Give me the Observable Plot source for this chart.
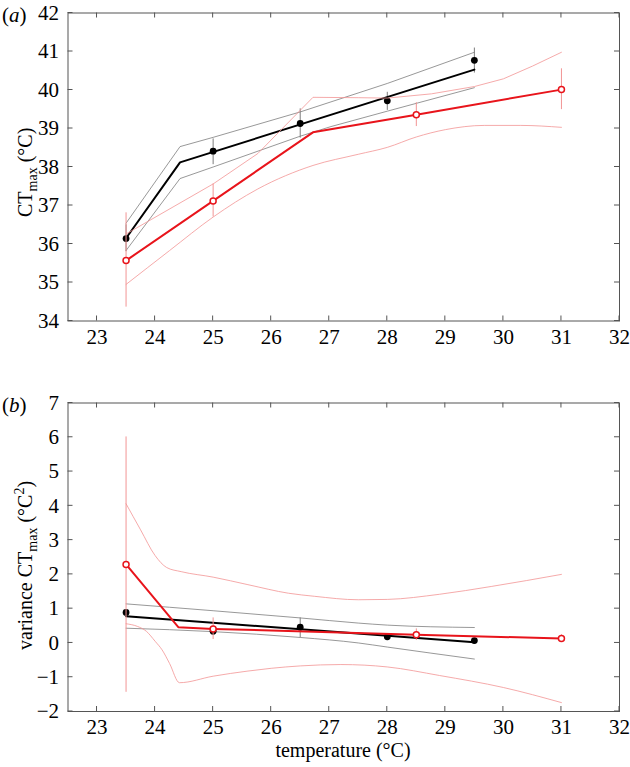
<!DOCTYPE html>
<html><head><meta charset="utf-8">
<script src="https://cdn.jsdelivr.net/npm/d3@7"></script>
<script src="https://cdn.jsdelivr.net/npm/@observablehq/plot@0.6"></script>
<style>
body{margin:0;background:#fff;}
#chart{width:630px;height:767px;position:relative;background:#fff;}
svg{display:block;}
</style></head><body><div id="chart"></div>
<script>
// ---------- shared ticks ----------
const xTicks = [23, 24, 25, 26, 27, 28, 29, 30, 31, 32];
const yTicksA = [34, 35, 36, 37, 38, 39, 40, 41, 42];
const yTicksB = [-2, -1, 0, 1, 2, 3, 4, 5, 6, 7];

// ---------- panel (a): CTmax ----------
const aBlackX = [23.5, 25, 26.5, 28, 29.5];
const aBlackY = [36.14, 38.41, 39.13, 39.72, 40.77];
const aBlackLo = [35.80, 38.06, 38.75, 39.47, 40.44];
const aBlackHi = [36.50, 38.73, 39.51, 39.94, 41.09];
const aRedX = [23.5, 25, 28.5, 31];
const aRedY = [35.57, 37.12, 39.36, 40.01];
const aRedLo = [34.36, 36.70, 39.05, 39.49];
const aRedHi = [36.81, 37.56, 39.67, 40.55];

const aBlackFitX = [23.5, 24.43, 29.5];
const aBlackFitY = [36.15, 38.12, 40.53];
const aBlackUpX = [23.5, 24.43, 25, 26.5, 28, 29.5];
const aBlackUpY = [36.54, 38.53, 38.77, 39.43, 40.17, 40.98];
const aBlackDnX = [23.5, 24.43, 25, 26.5, 27.03, 28, 29.5];
const aBlackDnY = [35.83, 37.70, 38.00, 38.80, 39.05, 39.45, 40.06];

const aRedFitX = [23.5, 25, 26.72, 28.5, 31];
const aRedFitY = [35.57, 37.12, 38.90, 39.36, 40.01];
const aRedUpX = [23.5, 25, 25.77, 26.72, 27.5, 28, 28.76, 29.5, 30, 30.5, 31];
const aRedUpY = [36.26, 37.56, 38.35, 39.81, 39.80, 39.79, 39.90, 40.09, 40.29, 40.62, 40.98];
const aRedDnX = [23.5, 24.25, 25, 25.77, 26.72, 27.5, 28, 28.5, 29, 29.67, 30.3, 31];
const aRedDnY = [34.95, 35.83, 36.70, 37.43, 38.04, 38.33, 38.51, 38.78, 38.97, 39.08, 39.08, 39.03];

// ---------- panel (b): variance CTmax ----------
const bBlackX = [23.5, 25, 26.5, 28, 29.5];
const bBlackY = [0.89, 0.34, 0.46, 0.18, 0.07];
const bBlackLo = [0.82, 0.24, 0.15, 0.07, 0.02];
const bBlackHi = [0.96, 0.44, 0.73, 0.26, 0.12];
const bRedX = [23.5, 25, 28.5, 31];
const bRedY = [2.29, 0.41, 0.24, 0.13];
const bRedLo = [-1.44, 0.10, 0.07, 0.02];
const bRedHi = [6.01, 0.73, 0.41, 0.24];

const bBlackFitX = [23.5, 29.5];
const bBlackFitY = [0.78, 0.02];
const bBlackUpX = [23.5, 25, 26.5, 27.5, 28, 29.5];
const bBlackUpY = [1.14, 0.94, 0.73, 0.58, 0.52, 0.45];
const bBlackDnX = [23.5, 25, 26.5, 27.5, 28, 29.5];
const bBlackDnY = [0.43, 0.33, 0.16, 0.00, -0.12, -0.47];

const bRedFitX = [23.5, 24.4, 25, 28.5, 31];
const bRedFitY = [2.29, 0.46, 0.41, 0.24, 0.13];
const bRedUpX = [23.5, 23.75, 24.0, 24.2, 24.45, 25, 25.6, 26.3, 26.75, 27.5, 28, 28.9, 29.8, 31];
const bRedUpY = [4.06, 3.30, 2.55, 2.20, 2.08, 1.92, 1.70, 1.45, 1.36, 1.26, 1.27, 1.42, 1.65, 2.00];
const bRedDnX = [23.5, 23.7, 23.85, 24.0, 24.12, 24.25, 24.42, 25, 25.6, 26, 26.5, 27.2, 28, 28.9, 30, 31];
const bRedDnY = [0.56, 0.48, 0.34, 0.05, -0.20, -0.60, -1.16, -0.97, -0.82, -0.74, -0.67, -0.63, -0.70, -0.95, -1.30, -1.74];

// ---------- helpers ----------
const pts = (xs, ys) => xs.map((x, i) => ({x, y: ys[i]}));
const bars = (xs, lo, hi) => xs.map((x, i) => ({x, y1: lo[i], y2: hi[i]}));

const FONT = "'Liberation Serif', 'Times New Roman', serif";
const BLACK = "#000", GRAY = "#7d7d7d", RED = "#e8141b", LRED = "#f29494", FRAME = "#555";

function seriesMarks(s) {
  return [
    Plot.line(pts(s.upX, s.upY), {x: "x", y: "y", stroke: s.light, strokeWidth: 0.8, curve: s.upCurve || "linear"}),
    Plot.line(pts(s.dnX, s.dnY), {x: "x", y: "y", stroke: s.light, strokeWidth: 0.8, curve: s.dnCurve || "linear"}),
    Plot.ruleX(bars(s.px, s.lo, s.hi), {x: "x", y1: "y1", y2: "y2", stroke: s.light, strokeWidth: 1}),
    Plot.line(pts(s.fitX, s.fitY), {x: "x", y: "y", stroke: s.color, strokeWidth: 2}),
    s.open
      ? Plot.dot(pts(s.px, s.py), {x: "x", y: "y", r: 3, fill: "#fff", stroke: s.color, strokeWidth: 1.5})
      : Plot.dot(pts(s.px, s.py), {x: "x", y: "y", r: 3.4, fill: s.color, stroke: "none"})
  ];
}

function panel({height, mt, mb, yDomain, yTicks, series}) {
  return Plot.plot({
    width: 630, height,
    marginLeft: 67.5, marginRight: 11, marginTop: mt, marginBottom: mb,
    style: {fontFamily: FONT, fontSize: "21px", color: "#000", background: "#fff", overflow: "visible"},
    x: {domain: [22.5, 32], ticks: xTicks, label: null},
    y: {domain: yDomain, ticks: yTicks, label: null},
    marks: [
      ...series.flatMap(seriesMarks),
      Plot.frame({stroke: FRAME, strokeWidth: 1}),
      Plot.axisX(xTicks, {tickSize: 0, tickPadding: 8, label: null, fill: "#000", fontSize: 21}),
      Plot.axisY(yTicks, {tickSize: 0, tickPadding: 9, label: null, fill: "#000", fontSize: 21})
    ]
  });
}

function addInwardTicks(plot, yTicks) {
  const sx = plot.scale("x"), sy = plot.scale("y");
  const [xl, xr] = sx.range, [yb, yt] = sy.range;
  const g = d3.select(plot).append("g").attr("stroke", FRAME).attr("stroke-width", 1);
  const seg = (x1, y1, x2, y2) => g.append("line").attr("x1", x1).attr("y1", y1).attr("x2", x2).attr("y2", y2);
  xTicks.forEach(v => { const p = sx.apply(v); seg(p, yb, p, yb - 5); seg(p, yt, p, yt + 5); });
  yTicks.forEach(v => { const p = sy.apply(v); seg(xl, p, xl + 5, p); seg(xr, p, xr - 5, p); });
}

function addText(plot, {x, y, rotate = 0, parts, size = 20, anchor = "start"}) {
  const t = d3.select(plot).append("text")
    .attr("transform", `translate(${x},${y}) rotate(${rotate})`)
    .attr("text-anchor", anchor)
    .style("font-family", FONT).style("font-size", size + "px").attr("fill", "#000");
  parts.forEach(p => {
    const ts = t.append("tspan").text(p.t);
    if (p.dy) ts.attr("dy", p.dy);
    if (p.size) ts.style("font-size", p.size + "px");
    if (p.italic) ts.style("font-style", "italic");
  });
}

const chart = document.getElementById("chart");

// panel (a)
const plotA = panel({
  height: 360, mt: 12.5, mb: 39.5, yDomain: [34, 42], yTicks: yTicksA,
  series: [
    {upX: aBlackUpX, upY: aBlackUpY, dnX: aBlackDnX, dnY: aBlackDnY, fitX: aBlackFitX, fitY: aBlackFitY,
     px: aBlackX, py: aBlackY, lo: aBlackLo, hi: aBlackHi, color: BLACK, light: GRAY, open: false},
    {upX: aRedUpX, upY: aRedUpY, dnX: aRedDnX, dnY: aRedDnY, fitX: aRedFitX, fitY: aRedFitY,
     px: aRedX, py: aRedY, lo: aRedLo, hi: aRedHi, color: RED, light: LRED, open: true, dnCurve: "monotone-x"}
  ]
});
addInwardTicks(plotA, yTicksA);
addText(plotA, {x: 2, y: 22, size: 21, parts: [{t: "("}, {t: "a", italic: true}, {t: ")"}]});
addText(plotA, {x: 32, y: 217, rotate: -90, parts: [{t: "CT"}, {t: "max", size: 14, dy: 5}, {t: " (°C)", dy: -5}]});
chart.appendChild(plotA);

// panel (b)
const plotB = panel({
  height: 407, mt: 42.5, mb: 56, yDomain: [-2, 7], yTicks: yTicksB,
  series: [
    {upX: bBlackUpX, upY: bBlackUpY, dnX: bBlackDnX, dnY: bBlackDnY, fitX: bBlackFitX, fitY: bBlackFitY,
     px: bBlackX, py: bBlackY, lo: bBlackLo, hi: bBlackHi, color: BLACK, light: GRAY, open: false,
     upCurve: "monotone-x", dnCurve: "monotone-x"},
    {upX: bRedUpX, upY: bRedUpY, dnX: bRedDnX, dnY: bRedDnY, fitX: bRedFitX, fitY: bRedFitY,
     px: bRedX, py: bRedY, lo: bRedLo, hi: bRedHi, color: RED, light: LRED, open: true,
     upCurve: "monotone-x", dnCurve: "monotone-x"}
  ]
});
addInwardTicks(plotB, yTicksB);
addText(plotB, {x: 2, y: 52, size: 21, parts: [{t: "("}, {t: "b", italic: true}, {t: ")"}]});
addText(plotB, {x: 32, y: 290, rotate: -90, parts: [{t: "variance CT"}, {t: "max", size: 14, dy: 5}, {t: " (°C", dy: -5}, {t: "2", size: 14, dy: -8}, {t: ")", dy: 8}]});
addText(plotB, {x: 343, y: 397, size: 20, anchor: "middle", parts: [{t: "temperature (°C)"}]});
chart.appendChild(plotB);
</script></body></html>
